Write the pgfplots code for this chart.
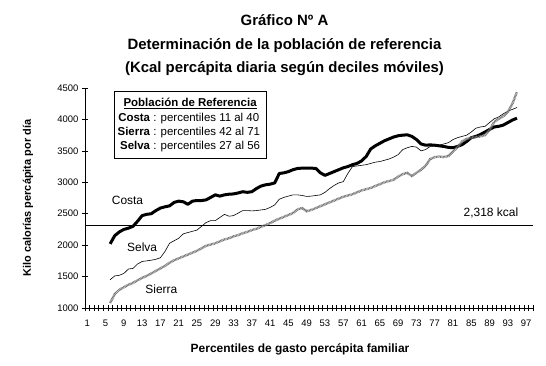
\documentclass[border=0pt]{standalone}
\usepackage{pgfplots}
\usepackage{pgfplotstable}
\pgfplotsset{compat=1.18}
\usepackage{fontspec}
\setmainfont{Liberation Sans}
\pgfplotstableread{
x costa selva sierra
6 2020 1450 1080
7 2150 1510 1220
8 2210 1520 1290
9 2250 1550 1330
10 2270 1620 1370
11 2300 1630 1400
12 2380 1700 1440
13 2470 1740 1480
14 2490 1750 1510
15 2500 1760 1550
16 2550 1775 1590
17 2590 1800 1630
18 2610 1900 1670
19 2625 2030 1720
20 2680 2070 1760
21 2700 2110 1790
22 2690 2180 1820
23 2650 2200 1850
24 2700 2220 1880
25 2710 2240 1910
26 2710 2300 1950
27 2720 2360 1990
28 2760 2390 2010
29 2800 2390 2030
30 2780 2440 2060
31 2800 2490 2090
32 2810 2460 2110
33 2815 2470 2140
34 2830 2510 2160
35 2850 2550 2190
36 2840 2550 2210
37 2850 2545 2240
38 2900 2550 2260
39 2940 2560 2290
40 2960 2570 2320
41 2970 2600 2350
42 2990 2640 2390
43 3140 2730 2420
44 3150 2760 2450
45 3170 2780 2480
46 3200 2800 2510
47 3220 2800 2570
48 3225 2790 2590
49 3225 2775 2540
50 3225 2780 2560
51 3220 2790 2590
52 3150 2800 2620
53 3110 2840 2650
54 3140 2900 2680
55 3170 2950 2710
56 3200 2990 2740
57 3230 3010 2770
58 3250 3140 2790
59 3280 3250 2810
60 3300 3260 2840
61 3340 3270 2870
62 3410 3280 2890
63 3530 3300 2910
64 3580 3320 2940
65 3620 3330 2970
66 3660 3350 3000
67 3690 3370 3020
68 3720 3400 3040
69 3740 3440 3090
70 3750 3520 3130
71 3755 3550 3150
72 3730 3570 3100
73 3680 3560 3150
74 3610 3500 3200
75 3590 3520 3260
76 3595 3570 3370
77 3590 3580 3400
78 3580 3590 3410
79 3570 3610 3400
80 3555 3630 3420
81 3550 3680 3490
82 3570 3710 3560
83 3600 3730 3650
84 3650 3750 3690
85 3710 3800 3710
86 3730 3860 3720
87 3760 3880 3730
88 3800 3890 3750
89 3840 3950 3830
90 3880 4010 3960
91 3890 4040 4010
92 3910 4090 4050
93 3950 4130 4120
94 3990 4160 4250
95 4020 4190 4440
}\datatable
\begin{document}
\begin{tikzpicture}
\useasboundingbox (-85bp,-58bp) rectangle (461bp,308bp);
\begin{axis}[
  at={(0,0)}, anchor=south west,
  scale only axis, width=448bp, height=220bp,
  xmin=0.5, xmax=98.5, ymin=1000, ymax=4500,
  axis lines=left, axis line style={-, line width=0.75bp},
  clip=false,
  xtick={1,5,...,97},
  minor xtick={0.5,1.5,...,98.5},
  major x tick style={draw=none},
  ytick={1000,1500,...,4500},
  tick align=center,
  major tick length=6bp, minor tick length=6bp,
  every tick/.style={black, line width=0.6bp},
  tick label style={font=\fontsize{9.5}{10}\selectfont},
  xticklabel style={yshift=-5bp},
  /pgf/number format/assume math mode=true,
  /pgf/number format/set thousands separator={},
  xlabel={Percentiles de gasto percápita familiar},
  ylabel={Kilo calorías percápita por día},
  xlabel style={at={(axis description cs:0.48,-0.186)}, anchor=center, font=\fontsize{12}{14}\selectfont\bfseries},
  ylabel style={at={(axis description cs:-0.127,0.5)}, anchor=center, font=\fontsize{11}{13}\selectfont\bfseries},
]
\addplot[black, line width=0.75bp] coordinates {(0.5,2318) (98.5,2318)};
\addplot[black, line width=3bp, line join=round] table[x=x, y=costa] {\datatable};
\addplot[black, line width=0.6bp] table[x=x, y=selva] {\datatable};
\addplot[black!55, line width=2.4bp, dash pattern=on 0.8bp off 0.6bp] table[x=x, y=sierra] {\datatable};
\node[font=\fontsize{12}{14}\selectfont] at (axis cs:9.8,2718) {Costa};
\node[font=\fontsize{12}{14}\selectfont] at (axis cs:13,1970) {Selva};
\node[font=\fontsize{12}{14}\selectfont] at (axis cs:17.2,1302) {Sierra};
\node[font=\fontsize{12}{14}\selectfont] at (axis cs:89.3,2510) {2,318 kcal};
\node[draw, line width=0.75bp, inner sep=3.5bp, font=\fontsize{11.5}{16.5}\selectfont] at (axis cs:23.5,3911) {%
  \begin{tabular}{@{}r@{ }l@{}}
  \multicolumn{2}{c}{\bfseries\underline{Población de Referencia}}\\[-2pt]
  \bfseries Costa & : percentiles 11 al 40\\[-2pt]
  \bfseries Sierra & : percentiles 42 al 71\\[-2pt]
  \bfseries Selva & : percentiles 27 al 56
  \end{tabular}};
\end{axis}
\node[anchor=base, font=\fontsize{15}{17}\selectfont\bfseries] at (199.5bp,282bp) {Gráfico Nº A};
\node[anchor=base, font=\fontsize{15}{17}\selectfont\bfseries] at (199.5bp,258bp) {Determinación de la población de referencia};
\node[anchor=base, font=\fontsize{15}{17}\selectfont\bfseries] at (199.5bp,235bp) {(Kcal percápita diaria según deciles móviles)};
\end{tikzpicture}
\end{document}
